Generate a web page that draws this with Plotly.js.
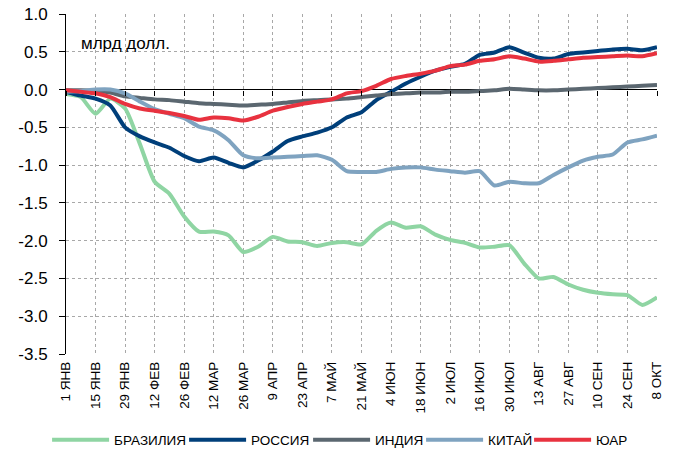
<!DOCTYPE html>
<html>
<head>
<meta charset="utf-8">
<script src="https://cdn.plot.ly/plotly-3.0.1.min.js"></script>
<style>html,body{margin:0;padding:0;background:#fff;}</style>
</head>
<body>
<div id="chart" style="width:677px;height:451px;"></div>
<script>
// Tick labels (every two weeks)
const tickLabels = ["1 ЯНВ","15 ЯНВ","29 ЯНВ","12 ФЕВ","26 ФЕВ","12 МАР","26 МАР","9 АПР","23 АПР","7 МАЙ","21 МАЙ","4 ИЮН","18 ИЮН","2 ИЮЛ","16 ИЮЛ","30 ИЮЛ","13 АВГ","27 АВГ","10 СЕН","24 СЕН","8 ОКТ"];
// Weekly observations, index 0 = 1 ЯНВ ... 40 = 8 ОКТ
const weekIndex = [0,1,2,3,4,5,6,7,8,9,10,11,12,13,14,15,16,17,18,19,20,21,22,23,24,25,26,27,28,29,30,31,32,33,34,35,36,37,38,39,40];

const brazil = [-0.06,-0.10,-0.32,-0.12,-0.25,-0.72,-1.22,-1.38,-1.68,-1.88,-1.88,-1.93,-2.15,-2.08,-1.95,-2.01,-2.02,-2.07,-2.03,-2.02,-2.05,-1.87,-1.76,-1.83,-1.81,-1.92,-1.99,-2.03,-2.09,-2.08,-2.06,-2.30,-2.50,-2.48,-2.58,-2.65,-2.69,-2.71,-2.72,-2.85,-2.75];
const russia = [-0.03,-0.08,-0.12,-0.21,-0.50,-0.62,-0.70,-0.77,-0.88,-0.95,-0.90,-0.97,-1.03,-0.94,-0.82,-0.68,-0.62,-0.57,-0.50,-0.37,-0.30,-0.14,-0.03,0.08,0.17,0.25,0.30,0.34,0.46,0.49,0.56,0.49,0.42,0.41,0.47,0.49,0.51,0.53,0.54,0.52,0.56];
const india = [-0.01,-0.01,-0.02,-0.04,-0.09,-0.11,-0.13,-0.14,-0.16,-0.18,-0.19,-0.20,-0.21,-0.20,-0.19,-0.17,-0.15,-0.14,-0.13,-0.12,-0.10,-0.08,-0.06,-0.05,-0.04,-0.04,-0.03,-0.03,-0.02,-0.01,0.01,0.00,-0.01,-0.01,0.00,0.01,0.02,0.03,0.04,0.05,0.06];
const china = [-0.03,-0.02,0.00,0.00,-0.05,-0.16,-0.26,-0.32,-0.38,-0.49,-0.54,-0.67,-0.87,-0.91,-0.90,-0.89,-0.88,-0.87,-0.93,-1.08,-1.09,-1.09,-1.05,-1.03,-1.03,-1.06,-1.08,-1.10,-1.08,-1.27,-1.22,-1.24,-1.24,-1.13,-1.03,-0.94,-0.89,-0.86,-0.70,-0.66,-0.61];
const southAfrica = [-0.01,-0.03,-0.05,-0.10,-0.19,-0.25,-0.28,-0.31,-0.35,-0.40,-0.37,-0.38,-0.41,-0.36,-0.28,-0.23,-0.19,-0.16,-0.13,-0.05,-0.02,0.05,0.14,0.18,0.21,0.25,0.31,0.33,0.38,0.40,0.44,0.41,0.37,0.38,0.40,0.42,0.43,0.44,0.45,0.44,0.48];

const seriesNames = ["БРАЗИЛИЯ","РОССИЯ","ИНДИЯ","КИТАЙ","ЮАР"];
const seriesColors = ["#8fd5a3","#003f7a","#5b6770","#7fa3c0","#e8323f"];
const legendWidths = [65, 52, 41, 36, 33];
const yTickVals = [1.0,0.5,0.0,-0.5,-1.0,-1.5,-2.0,-2.5,-3.0,-3.5];

const FONT = "'Liberation Sans',Arial,sans-serif";
const allSeries = [brazil, russia, india, china, southAfrica];
const tickVals = tickLabels.map((_, i) => i * 2);

const traces = allSeries.map((vals, i) => ({
  type: "scatter", mode: "lines", name: seriesNames[i],
  x: weekIndex, y: vals, legendwidth: legendWidths[i],
  line: {color: seriesColors[i], width: 4, shape: "spline", smoothing: 0.6},
  hoverinfo: "skip"
}));
// helper trace so the zero-line tick axis is drawn
traces.push({type: "scatter", mode: "lines", x: weekIndex, y: india, xaxis: "x2",
  line: {width: 0, color: "rgba(0,0,0,0)"}, showlegend: false, hoverinfo: "skip"});

const layout = {
  width: 677, height: 451,
  margin: {l: 66, r: 20, t: 14, b: 97, autoexpand: false},
  paper_bgcolor: "#fff", plot_bgcolor: "#fff",
  font: {family: FONT, color: "#000"},
  showlegend: true,
  legend: {orientation: "h", x: -0.032, xanchor: "left", y: -0.253, yanchor: "middle",
    font: {family: FONT, size: 13.5, color: "#000"}, itemwidth: 57, traceorder: "normal",
    tracegroupgap: 0, bgcolor: "rgba(0,0,0,0)"},
  xaxis: {range: [0, 40], tickvals: tickVals, ticktext: tickLabels, tickangle: -90,
    showgrid: true, gridcolor: "#a8a8a8", griddash: "dot", gridwidth: 1,
    zeroline: false, showline: false, ticks: "", automargin: false, ticklabelstandoff: 4,
    tickfont: {family: FONT, size: 13.5, color: "#000"}, fixedrange: true},
  xaxis2: {overlaying: "x", anchor: "free", position: 3.5 / 4.5, range: [0, 40],
    tickvals: tickVals, showticklabels: false, ticks: "outside", ticklen: 5, tickcolor: "#000",
    showgrid: false, zeroline: false, showline: false},
  yaxis: {range: [-3.5, 1.0], tickvals: yTickVals, ticktext: yTickVals.map(v => v.toFixed(1)),
    showgrid: true, gridcolor: "#a8a8a8", griddash: "dot", gridwidth: 1,
    zeroline: true, zerolinecolor: "#000", zerolinewidth: 1,
    showline: true, linecolor: "#000", linewidth: 1, automargin: false,
    ticks: "outside", ticklen: 6, tickcolor: "#000",
    tickfont: {family: FONT, size: 17, color: "#000"}, ticklabelstandoff: 8},
  annotations: [{text: "млрд долл.", xref: "paper", yref: "paper", x: 0.022, y: 0.912,
    xanchor: "left", yanchor: "middle", showarrow: false,
    font: {family: FONT, size: 17, color: "#000"}}]
};

Plotly.newPlot("chart", traces, layout, {displayModeBar: false, staticPlot: true});
</script>
</body>
</html>
